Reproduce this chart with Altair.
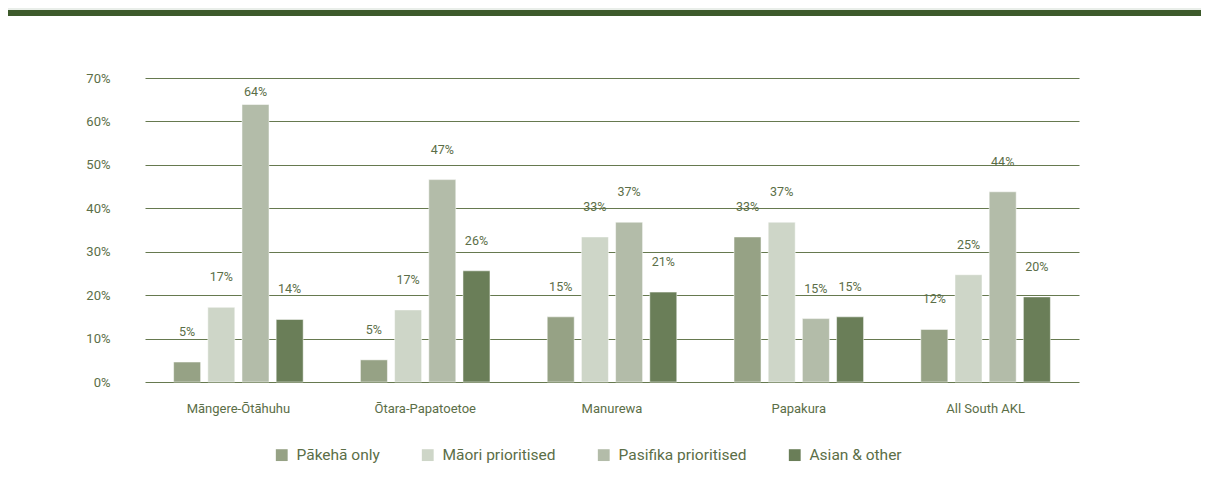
import altair as alt
import pandas as pd

areas = ["Māngere-Ōtāhuhu", "Ōtara-Papatoetoe", "Manurewa", "Papakura", "All South AKL"]
groups = ["Pākehā only", "Māori prioritised", "Pasifika prioritised", "Asian & other"]
pakeha = [4.6, 5.1, 15.0, 33.4, 12.1]
maori = [17.2, 16.6, 33.4, 36.8, 24.7]
pasifika = [63.9, 46.6, 36.8, 14.6, 43.8]
asian = [14.4, 25.6, 20.7, 15.0, 19.6]
colors = ["#96a285", "#ced6c8", "#b3bca9", "#6a7e58"]
y_ticks = [0, 10, 20, 30, 40, 50, 60, 70]

rows = []
for g, series in zip(groups, [pakeha, maori, pasifika, asian]):
    for a, v in zip(areas, series):
        rows.append({"area": a, "group": g, "value": v})
df = pd.DataFrame(rows)

FONT = "Roboto"
TEXT = "#5b6e47"
GRID = "#66794f"

x_enc = alt.X(
    "area:N", sort=areas,
    scale=alt.Scale(paddingInner=0.268, paddingOuter=0.134),
    axis=alt.Axis(title=None, labelAngle=0, labelPadding=20, ticks=False, domain=False,
                  labelFontSize=13, labelColor=TEXT, labelFont=FONT, grid=False),
)
xo_enc = alt.XOffset("group:N", sort=groups,
                     scale=alt.Scale(paddingInner=0.21, paddingOuter=0.105))
y_axis = alt.Axis(title=None, values=y_ticks, labelExpr="datum.value + '%'",
                  grid=True, gridColor=GRID, gridWidth=1, ticks=False,
                  domain=False, labelPadding=35, labelFontSize=13,
                  labelColor=TEXT, labelFont=FONT)
y_scale = alt.Scale(domain=[0, 70], nice=False, zero=True)

bars = alt.Chart(df).mark_bar(stroke="white", strokeOpacity=0.5, strokeWidth=1).encode(
    x=x_enc,
    xOffset=xo_enc,
    y=alt.Y("value:Q", scale=y_scale, axis=y_axis, title=None),
    color=alt.Color("group:N", sort=groups,
                    scale=alt.Scale(domain=groups, range=colors),
                    legend=alt.Legend(title=None, orient="none", legendX=129, legendY=369,
                                      direction="horizontal", symbolType="square",
                                      symbolSize=140, symbolStrokeWidth=0,
                                      labelFontSize=15.5, labelFont=FONT, labelColor=TEXT,
                                      columnPadding=40, labelOffset=7, padding=0)),
)

labels = alt.Chart(df).transform_calculate(
    label_y="min(datum.value + 6.9, 66.8)",
    label="format(datum.value, '.0f') + '%'",
).mark_text(baseline="middle", fontSize=12.5, font=FONT, color=TEXT).encode(
    x=x_enc,
    xOffset=xo_enc,
    y=alt.Y("label_y:Q", scale=y_scale, axis=y_axis, title=None),
    text="label:N",
)

deco = pd.DataFrame({"k": [0]})
grey_top = alt.Chart(deco).mark_rect(color="#e9eee9").encode(
    x=alt.value(-140), x2=alt.value(1100), y=alt.value(-70), y2=alt.value(-68))
band = alt.Chart(deco).mark_rect(color="#3d5a2b").encode(
    x=alt.value(-140), x2=alt.value(1100), y=alt.value(-68), y2=alt.value(-62))

chart = alt.layer(grey_top, band, bars, labels).properties(
    width=934, height=304,
    autosize=alt.AutoSizeParams(type="none"),
    padding={"left": 137, "top": 70, "right": 122, "bottom": 113},
    background="white",
).configure_view(stroke=None)

chart.save("out.html", embed_options={"renderer": "svg", "actions": False})
